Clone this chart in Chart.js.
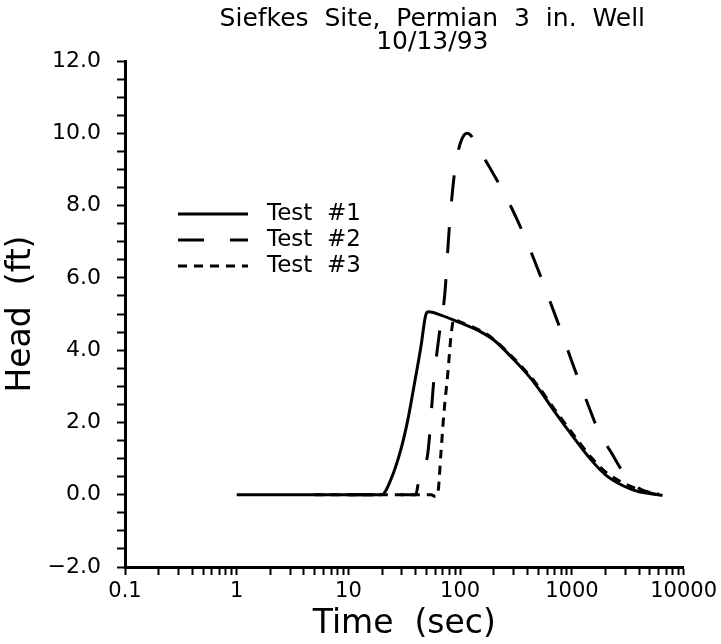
<!DOCTYPE html>
<html>
<head>
<meta charset="utf-8">
<script src="https://cdn.jsdelivr.net/npm/chart.js@4.4.0/dist/chart.umd.min.js"></script>
<style>
  html, body { margin: 0; padding: 0; background: #fff; }
  #wrap { width: 721px; height: 644px; }
</style>
</head>
<body>
<div id="wrap"><canvas id="headChart" width="721" height="644"></canvas></div>
<script>
var titleLines = ['Siefkes  Site,  Permian  3  in.  Well', '10/13/93'];
var seriesNames = ['Test  #1', 'Test  #2', 'Test  #3'];
var xDecades = [0.1, 1, 10, 100, 1000, 10000];
var yLabels = [-2, 0, 2, 4, 6, 8, 10, 12];

// Test #1 (solid)
var test1Time = [1, 3, 10, 19.9, 23.9, 29.4, 34, 38.5, 44.5, 49.3, 52, 67, 100, 150, 200, 300, 400, 500, 700, 1000, 1500, 2000, 3000, 4000, 6000];
var test1Head = [0, 0, 0, 0, 0.41, 1.24, 2.07, 2.98, 4.09, 4.98, 5.06, 4.97, 4.76, 4.52, 4.28, 3.75, 3.33, 2.95, 2.30, 1.65, 0.95, 0.55, 0.22, 0.08, 0.0];

// Test #2 (long dash)
var test2Time = [10, 20, 30, 40, 42.7, 51.4, 58.2, 64.5, 73.1, 79.3, 88, 95.6, 104, 115, 164, 218, 286, 366, 450, 553, 681, 837, 988, 1214, 1432, 1762, 2258, 2893, 3784, 5000, 6500, 8000, 10000];
var test2Head = [0, 0, 0, 0, 0.4, 1.16, 3.18, 4.36, 5.6, 7.24, 8.78, 9.48, 9.85, 10.0, 9.31, 8.65, 7.96, 7.24, 6.57, 5.86, 5.11, 4.36, 3.73, 2.98, 2.40, 1.71, 1.16, 0.61, 0.22, 0.05, -0.02, -0.06, -0.1];

// Test #3 (short dash)
var test3Time = [5, 10, 20, 40, 55, 60, 63.2, 67.3, 71.6, 77.6, 82.6, 88, 100, 150, 200, 300, 400, 500, 700, 1000, 1500, 2000, 3000, 4000, 5000, 6000];
var test3Head = [0, 0, 0, 0, 0, -0.05, 0.05, 1.16, 2.27, 3.37, 4.36, 4.86, 4.78, 4.55, 4.3, 3.78, 3.37, 3.0, 2.36, 1.72, 1.02, 0.63, 0.3, 0.14, 0.06, 0.02];

function pairs(xs, ys) {
  return xs.map(function(x, i) { return { x: x, y: ys[i] }; });
}

var fontFamily = '"DejaVu Sans", "Liberation Sans", sans-serif';

// title lines and the in-plot key
var headerAndKey = {
  id: 'headerAndKey',
  afterDraw: function(chart) {
    var ctx = chart.ctx, area = chart.chartArea;
    ctx.save();
    ctx.fillStyle = '#000';
    ctx.strokeStyle = '#000';
    ctx.textBaseline = 'middle';
    ctx.textAlign = 'center';
    ctx.font = '25px ' + fontFamily;
    var cx = (area.left + area.right) / 2 + 28;
    ctx.fillText(titleLines[0], cx, 19);
    ctx.fillText(titleLines[1], cx, 42);

    ctx.font = '23px ' + fontFamily;
    ctx.textAlign = 'left';
    chart.data.datasets.forEach(function(ds, i) {
      var y = area.top + 153 + i * 26;
      ctx.beginPath();
      ctx.setLineDash(ds.borderDash || []);
      ctx.lineWidth = ds.borderWidth;
      ctx.moveTo(area.left + 53, y);
      ctx.lineTo(area.left + 123, y);
      ctx.stroke();
      ctx.setLineDash([]);
      ctx.fillText(ds.label, area.left + 142, y);
    });
    ctx.restore();
  }
};

var ctx = document.getElementById('headChart').getContext('2d');
var chart = new Chart(ctx, {
  type: 'line',
  data: {
    datasets: [{
      label: seriesNames[0],
      data: pairs(test1Time, test1Head),
      borderColor: '#000',
      borderWidth: 3,
      borderDash: []
    }, {
      label: seriesNames[1],
      data: pairs(test2Time, test2Head),
      borderColor: '#000',
      borderWidth: 3,
      borderDash: [26, 26]
    }, {
      label: seriesNames[2],
      data: pairs(test3Time, test3Head),
      borderColor: '#000',
      borderWidth: 3,
      borderDash: [9, 7]
    }]
  },
  options: {
    responsive: false,
    animation: false,
    devicePixelRatio: 1,
    layout: { padding: { top: 61, right: 37, left: 0, bottom: 0 } },
    elements: {
      point: { radius: 0 },
      line: { fill: false, cubicInterpolationMode: 'monotone', borderCapStyle: 'butt' }
    },
    plugins: {
      legend: { display: false },
      tooltip: { enabled: false },
      title: { display: false }
    },
    scales: {
      x: {
        type: 'logarithmic',
        position: 'bottom',
        min: 0.1,
        max: 10000,
        afterBuildTicks: function(scale) {
          var t = [];
          for (var i = 0; i < xDecades.length - 1; i++) {
            for (var m = 1; m < 10; m++) t.push({ value: m * xDecades[i] });
          }
          t.push({ value: xDecades[xDecades.length - 1] });
          scale.ticks = t;
        },
        afterFit: function(scale) { scale.height = 77; },
        ticks: {
          autoSkip: false,
          maxRotation: 0,
          color: '#000',
          padding: 4,
          font: { family: fontFamily, size: 21 },
          callback: function(value) {
            return xDecades.indexOf(value) >= 0 ? String(value) : '';
          }
        },
        grid: { drawOnChartArea: false, tickLength: 8, tickColor: '#000', tickWidth: 2 },
        border: { color: '#000', width: 3 },
        title: {
          display: true,
          text: 'Time  (sec)',
          color: '#000',
          font: { family: fontFamily, size: 33 },
          padding: { top: 0, bottom: 0 }
        }
      },
      y: {
        min: -2,
        max: 12,
        afterBuildTicks: function(scale) {
          var t = [];
          for (var v = -4; v <= 24; v++) t.push({ value: v / 2 });
          scale.ticks = t;
        },
        afterFit: function(scale) { scale.width = 125; },
        ticks: {
          autoSkip: false,
          color: '#000',
          padding: 16,
          font: { family: fontFamily, size: 22 },
          callback: function(value) {
            return yLabels.indexOf(value) >= 0 ? value.toFixed(1).replace('-', '\u2212') : '';
          }
        },
        grid: { drawOnChartArea: false, tickLength: 8, tickColor: '#000', tickWidth: 2 },
        border: { color: '#000', width: 3 },
        title: {
          display: true,
          text: 'Head  (ft)',
          color: '#000',
          font: { family: fontFamily, size: 33 },
          padding: { top: 2, bottom: 0 }
        }
      }
    }
  },
  plugins: [headerAndKey]
});
</script>
</body>
</html>
